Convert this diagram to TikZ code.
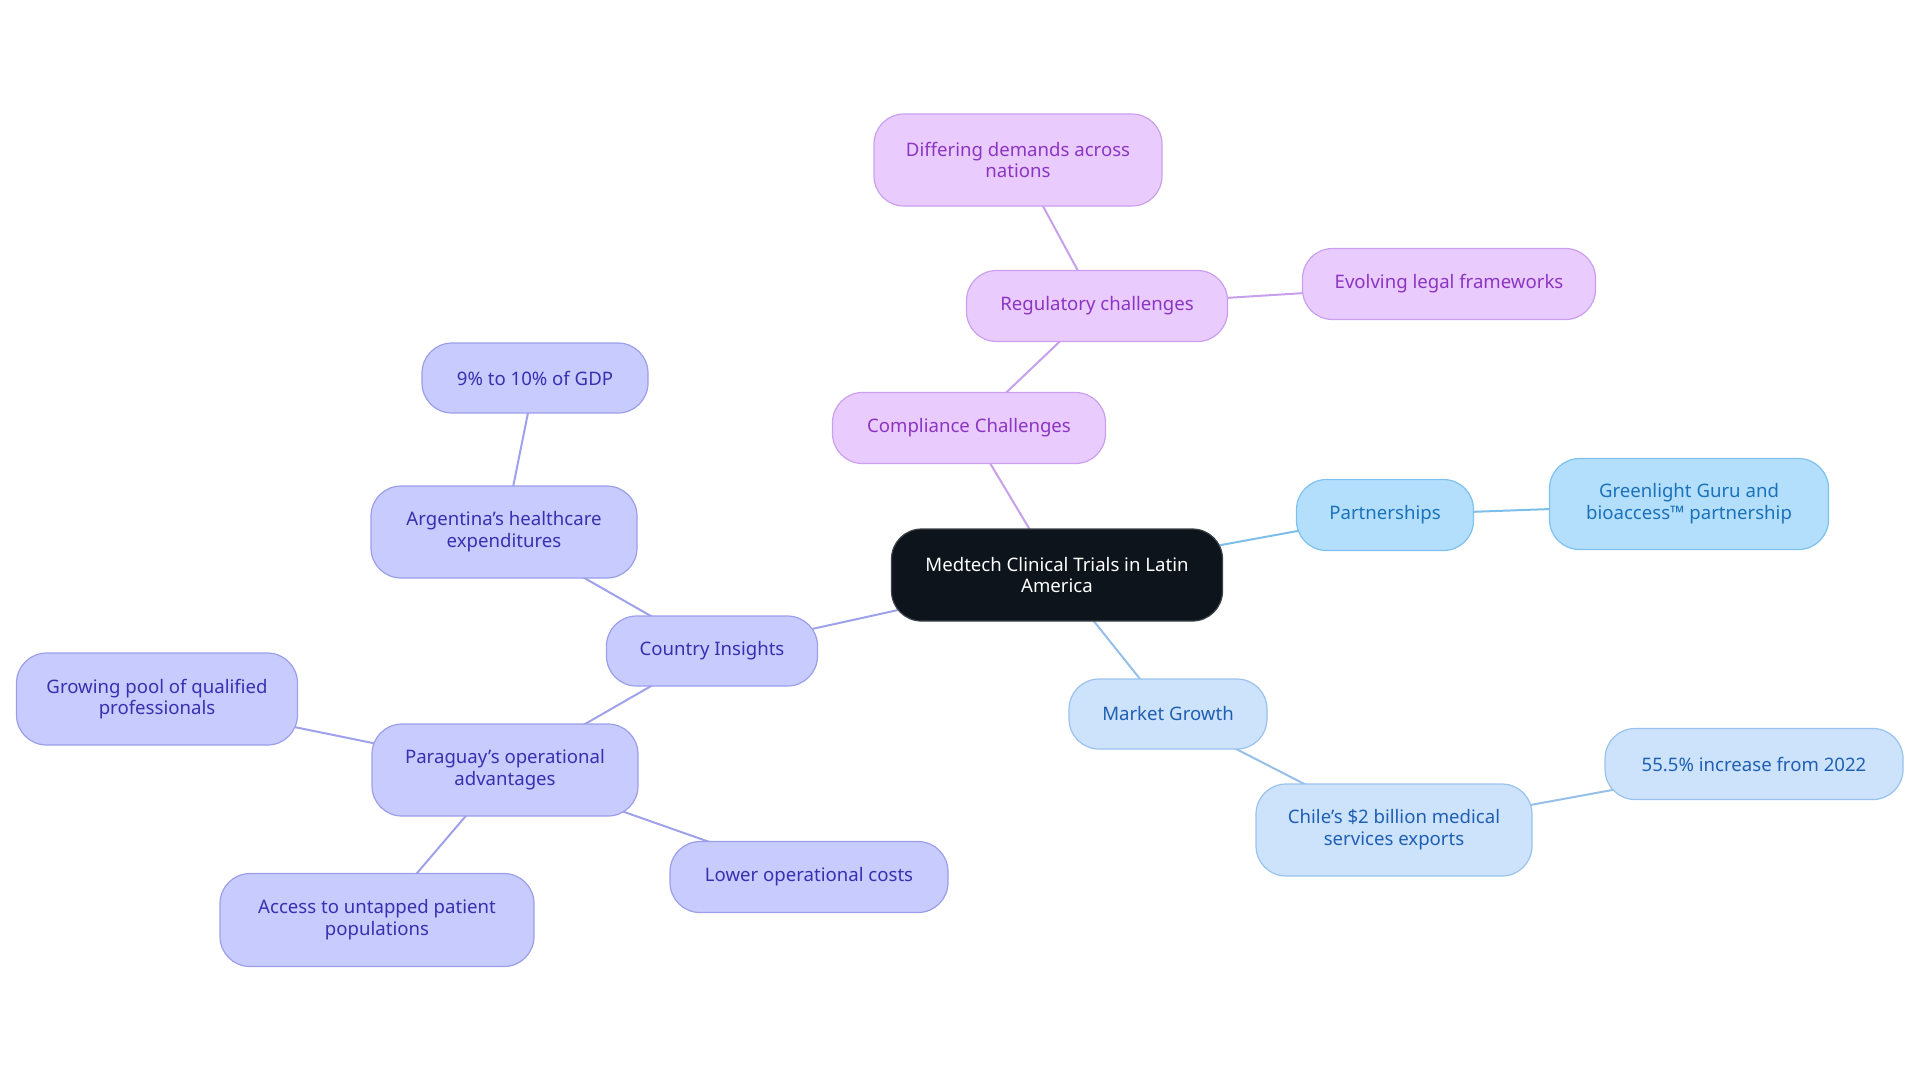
\documentclass[tikz,border=0pt]{standalone}
\usepackage{fontspec}
\setmainfont{Noto Sans}
\usetikzlibrary{backgrounds}
\definecolor{pfill}{HTML}{EACBFD}
\definecolor{pdraw}{HTML}{C9A0EF}
\definecolor{ptext}{HTML}{8B35C2}
\definecolor{pedge}{HTML}{C7A0EC}
\definecolor{bfill}{HTML}{CDE3FB}
\definecolor{bdraw}{HTML}{99C2EE}
\definecolor{btext}{HTML}{1F5FB4}
\definecolor{bedge}{HTML}{96BFEA}
\definecolor{sfill}{HTML}{B3DFFC}
\definecolor{sdraw}{HTML}{7DC1EE}
\definecolor{stext}{HTML}{1B72BA}
\definecolor{sedge}{HTML}{7DBEEA}
\definecolor{ifill}{HTML}{C8CBFD}
\definecolor{idraw}{HTML}{9B9FEA}
\definecolor{itext}{HTML}{3730B0}
\definecolor{iedge}{HTML}{9FA2EA}
\definecolor{cfill}{HTML}{0D141B}
\tikzset{
  x=0.5pt, y=-0.5pt,
  box/.style 2 args={draw, rounded corners=15pt, line width=0.6pt, align=center,
    minimum width=#1*0.5pt, minimum height=#2*0.5pt, inner sep=0pt,
    font=\fontsize{9.3}{10.9}\selectfont},
  pbox/.style={fill=pfill, draw=pdraw, text=ptext},
  bbox/.style={fill=bfill, draw=bdraw, text=btext},
  sbox/.style={fill=sfill, draw=sdraw, text=stext},
  ibox/.style={fill=ifill, draw=idraw, text=itext},
  cbox/.style={fill=cfill, draw=cfill!80!white, text=white},
  edge/.style={line width=1pt},
}
\begin{document}
\begin{tikzpicture}
\useasboundingbox (0,0) rectangle (1920,1083);
\node[box={331}{92}, cbox] (c) at (1057,575) {Medtech Clinical Trials in Latin\\America};
\node[box={273}{71}, pbox] (comp) at (969,428) {Compliance Challenges};
\node[box={261}{71}, pbox] (reg) at (1097,306) {Regulatory challenges};
\node[box={288}{92}, pbox] (diff) at (1018,160) {Differing demands across\\nations};
\node[box={293}{71}, pbox] (evol) at (1449,284) {Evolving legal frameworks};
\node[box={177}{71}, sbox] (part) at (1385,515) {Partnerships};
\node[box={279}{91}, sbox] (green) at (1689,504) {Greenlight Guru and\\bioaccess™ partnership};
\node[box={198}{70}, bbox] (mkt) at (1168,714) {Market Growth};
\node[box={276}{92}, bbox] (chile) at (1394,830) {Chile's \$2 billion medical\\services exports};
\node[box={298}{71}, bbox] (inc) at (1754,764) {55.5\% increase from 2022};
\node[box={211}{70}, ibox] (ci) at (712,651) {Country Insights};
\node[box={266}{92}, ibox] (arg) at (504,532) {Argentina's healthcare\\expenditures};
\node[box={226}{70}, ibox] (gdp) at (535,378) {9\% to 10\% of GDP};
\node[box={266}{92}, ibox] (par) at (505,770) {Paraguay's operational\\advantages};
\node[box={281}{92}, ibox] (pool) at (157,699) {Growing pool of qualified\\professionals};
\node[box={314}{93}, ibox] (acc) at (377,920) {Access to untapped patient\\populations};
\node[box={278}{71}, ibox] (low) at (809,877) {Lower operational costs};
\begin{scope}[on background layer]
\draw[edge, pedge] (c.center) -- (comp.center);
\draw[edge, pedge] (comp.center) -- (reg.center);
\draw[edge, pedge] (reg.center) -- (diff.center);
\draw[edge, pedge] (reg.center) -- (evol.center);
\draw[edge, sedge] (c.center) -- (part.center);
\draw[edge, sedge] (part.center) -- (green.center);
\draw[edge, bedge] (c.center) -- (mkt.center);
\draw[edge, bedge] (mkt.center) -- (chile.center);
\draw[edge, bedge] (chile.center) -- (inc.center);
\draw[edge, iedge] (c.center) -- (ci.center);
\draw[edge, iedge] (ci.center) -- (arg.center);
\draw[edge, iedge] (arg.center) -- (gdp.center);
\draw[edge, iedge] (ci.center) -- (par.center);
\draw[edge, iedge] (par.center) -- (pool.center);
\draw[edge, iedge] (par.center) -- (acc.center);
\draw[edge, iedge] (par.center) -- (low.center);
\end{scope}
\end{tikzpicture}
\end{document}
